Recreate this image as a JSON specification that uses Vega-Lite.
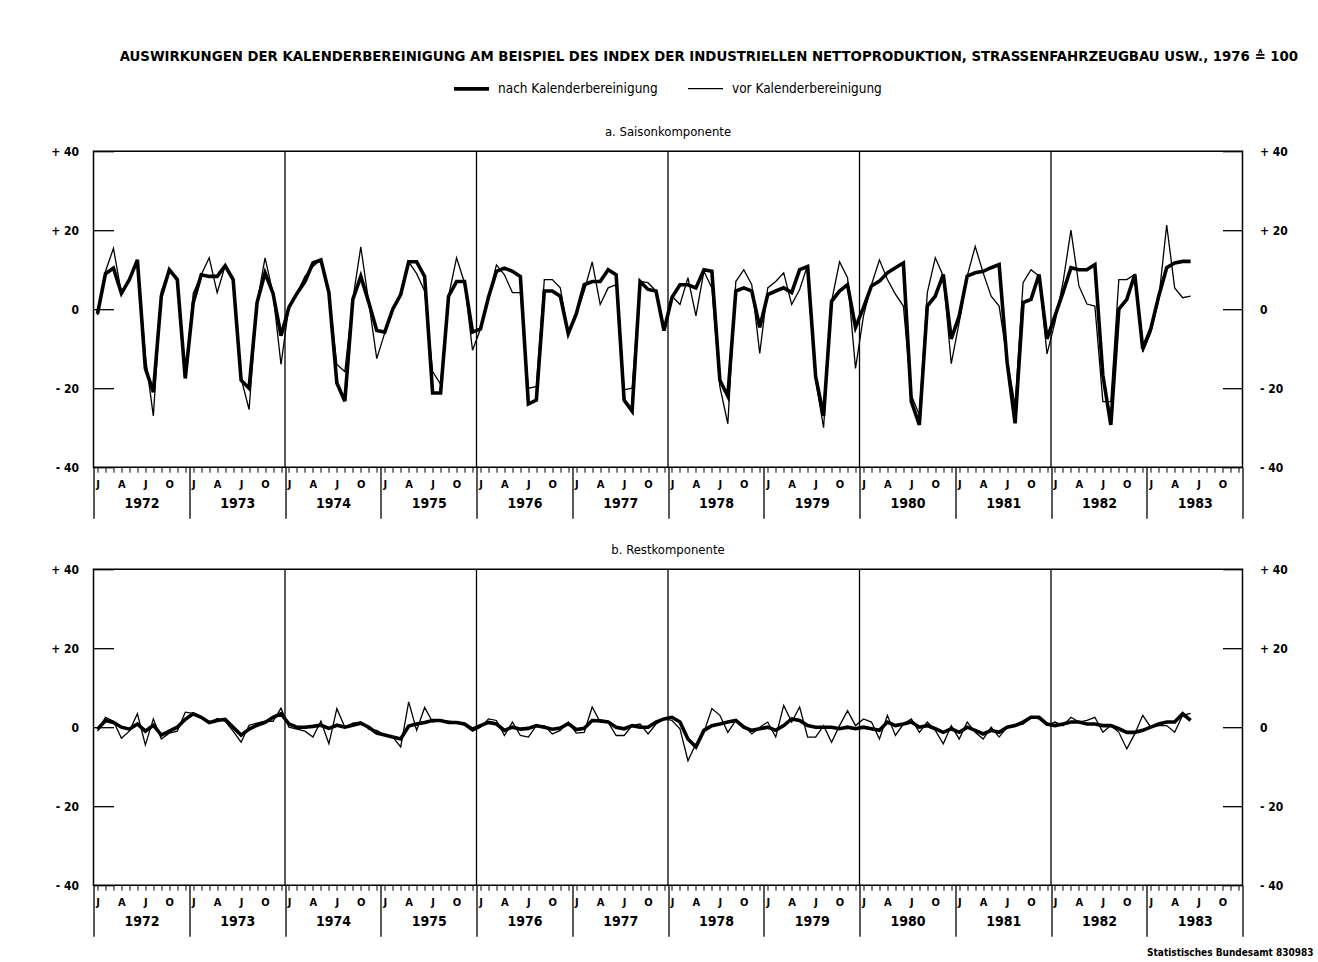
{
  "$schema": "https://vega.github.io/schema/vega-lite/v6.json",
  "background": "white",
  "padding": {"left": 49.5, "top": 49.2, "right": 5, "bottom": 0},
  "title": {
    "text": "AUSWIRKUNGEN DER KALENDERBEREINIGUNG AM BEISPIEL DES INDEX DER INDUSTRIELLEN NETTOPRODUKTION, STRASSENFAHRZEUGBAU USW., 1976 ≙ 100",
    "fontSize": 14.8, "fontWeight": "bold", "anchor": "middle", "dx": 27, "offset": 5, "color": "black"
  },
  "config": {
    "font": "Liberation Sans Narrow, DejaVu Sans Condensed, Arial Narrow, sans-serif",
    "view": {"stroke": "black", "strokeWidth": 1.5},
    "axis": {"labelColor": "black", "tickColor": "black", "domain": false, "grid": false, "title": null},
    "legend": {"labelColor": "black"}
  },
  "resolve": {"scale": {"strokeWidth": "shared"}, "legend": {"strokeWidth": "shared"}},
  "spacing": 23,
  "datasets": {
    "breaks": [{"b": 23.5}, {"b": 47.5}, {"b": 71.5}, {"b": 95.5}, {"b": 119.5}],
    "an": [{"m":0,"v":-1.2},{"m":1,"v":9},{"m":2,"v":10.4},{"m":3,"v":4},{"m":4,"v":7.5},{"m":5,"v":12.5},{"m":6,"v":-15},{"m":7,"v":-21},{"m":8,"v":3.3},{"m":9,"v":10},{"m":10,"v":7.5},{"m":11,"v":-17.5},
      {"m":12,"v":1.7},{"m":13,"v":8.7},{"m":14,"v":8.3},{"m":15,"v":8.3},{"m":16,"v":11},{"m":17,"v":7.5},{"m":18,"v":-18},{"m":19,"v":-20},{"m":20,"v":1.7},{"m":21,"v":9.2},{"m":22,"v":4},{"m":23,"v":-6.7},
      {"m":24,"v":0.5},{"m":25,"v":4},{"m":26,"v":7},{"m":27,"v":11.7},{"m":28,"v":12.5},{"m":29,"v":4.2},{"m":30,"v":-18.7},{"m":31,"v":-23.3},{"m":32,"v":2.5},{"m":33,"v":8.3},{"m":34,"v":1.7},{"m":35,"v":-5.4},
      {"m":36,"v":-5.8},{"m":37,"v":0},{"m":38,"v":3.7},{"m":39,"v":12},{"m":40,"v":12},{"m":41,"v":8.3},{"m":42,"v":-21.2},{"m":43,"v":-21.2},{"m":44,"v":3.3},{"m":45,"v":7},{"m":46,"v":7},{"m":47,"v":-5.8},
      {"m":48,"v":-5},{"m":49,"v":3},{"m":50,"v":9.6},{"m":51,"v":10.4},{"m":52,"v":9.6},{"m":53,"v":8.3},{"m":54,"v":-24},{"m":55,"v":-23},{"m":56,"v":4.6},{"m":57,"v":4.6},{"m":58,"v":3.3},{"m":59,"v":-6.2},
      {"m":60,"v":-1.2},{"m":61,"v":6.2},{"m":62,"v":7},{"m":63,"v":7},{"m":64,"v":10},{"m":65,"v":8.7},{"m":66,"v":-23},{"m":67,"v":-25.8},{"m":68,"v":7},{"m":69,"v":5},{"m":70,"v":4.6},{"m":71,"v":-5.4},
      {"m":72,"v":3},{"m":73,"v":6.2},{"m":74,"v":6.2},{"m":75,"v":5.4},{"m":76,"v":10},{"m":77,"v":9.6},{"m":78,"v":-18},{"m":79,"v":-22},{"m":80,"v":4.6},{"m":81,"v":5.4},{"m":82,"v":4.6},{"m":83,"v":-4.6},
      {"m":84,"v":3.7},{"m":85,"v":4.6},{"m":86,"v":5.4},{"m":87,"v":4.2},{"m":88,"v":10},{"m":89,"v":10.8},{"m":90,"v":-17},{"m":91,"v":-27},{"m":92,"v":2},{"m":93,"v":4.6},{"m":94,"v":6.2},{"m":95,"v":-4.6},
      {"m":96,"v":0.4},{"m":97,"v":5.9},{"m":98,"v":7.1},{"m":99,"v":9.2},{"m":100,"v":10.5},{"m":101,"v":11.7},{"m":102,"v":-23.4},{"m":103,"v":-29.3},{"m":104,"v":0.8},{"m":105,"v":3.3},{"m":106,"v":8.8},{"m":107,"v":-7.5},
      {"m":108,"v":-1.7},{"m":109,"v":8.4},{"m":110,"v":9.2},{"m":111,"v":9.6},{"m":112,"v":10.5},{"m":113,"v":11.3},{"m":114,"v":-13.4},{"m":115,"v":-28.9},{"m":116,"v":1.7},{"m":117,"v":2.5},{"m":118,"v":8.8},{"m":119,"v":-7.5},
      {"m":120,"v":-1.7},{"m":121,"v":4.2},{"m":122,"v":10.5},{"m":123,"v":10},{"m":124,"v":10},{"m":125,"v":11.3},{"m":126,"v":-16.7},{"m":127,"v":-29.3},{"m":128,"v":0},{"m":129,"v":2.5},{"m":130,"v":8.8},{"m":131,"v":-10},
      {"m":132,"v":-5},{"m":133,"v":3.3},{"m":134,"v":10.5},{"m":135,"v":11.7},{"m":136,"v":12.1},{"m":137,"v":12.1}],
    "av": [{"m":0,"v":-1.5},{"m":1,"v":9.6},{"m":2,"v":15.4},{"m":3,"v":4},{"m":4,"v":7.5},{"m":5,"v":12.5},{"m":6,"v":-12},{"m":7,"v":-27},{"m":8,"v":4.6},{"m":9,"v":10},{"m":10,"v":7.5},{"m":11,"v":-17.5},
      {"m":12,"v":4},{"m":13,"v":8.7},{"m":14,"v":13},{"m":15,"v":4.2},{"m":16,"v":11},{"m":17,"v":7.5},{"m":18,"v":-17.5},{"m":19,"v":-25.4},{"m":20,"v":1.7},{"m":21,"v":13},{"m":22,"v":4},{"m":23,"v":-14},
      {"m":24,"v":0.8},{"m":25,"v":4},{"m":26,"v":8.3},{"m":27,"v":10.8},{"m":28,"v":12.5},{"m":29,"v":4.2},{"m":30,"v":-14},{"m":31,"v":-15.8},{"m":32,"v":2.5},{"m":33,"v":15.8},{"m":34,"v":1.7},{"m":35,"v":-12.5},
      {"m":36,"v":-6},{"m":37,"v":0},{"m":38,"v":3.7},{"m":39,"v":12},{"m":40,"v":9},{"m":41,"v":4.6},{"m":42,"v":-15.8},{"m":43,"v":-19},{"m":44,"v":3.3},{"m":45,"v":13},{"m":46,"v":6.7},{"m":47,"v":-10.4},
      {"m":48,"v":-5},{"m":49,"v":3},{"m":50,"v":11.2},{"m":51,"v":8.7},{"m":52,"v":4.2},{"m":53,"v":4.2},{"m":54,"v":-20},{"m":55,"v":-19.6},{"m":56,"v":7.5},{"m":57,"v":7.5},{"m":58,"v":5.4},{"m":59,"v":-6.2},
      {"m":60,"v":-1.2},{"m":61,"v":4.6},{"m":62,"v":12},{"m":63,"v":1.2},{"m":64,"v":5.4},{"m":65,"v":6.2},{"m":66,"v":-20.4},{"m":67,"v":-20},{"m":68,"v":7},{"m":69,"v":6.7},{"m":70,"v":4.6},{"m":71,"v":-4.6},
      {"m":72,"v":3.3},{"m":73,"v":1.2},{"m":74,"v":8},{"m":75,"v":-1.7},{"m":76,"v":9.6},{"m":77,"v":5.4},{"m":78,"v":-19.6},{"m":79,"v":-29},{"m":80,"v":7},{"m":81,"v":10},{"m":82,"v":6.2},{"m":83,"v":-11.2},
      {"m":84,"v":5.4},{"m":85,"v":7},{"m":86,"v":9.2},{"m":87,"v":1.2},{"m":88,"v":5},{"m":89,"v":11.2},{"m":90,"v":-18},{"m":91,"v":-30},{"m":92,"v":2},{"m":93,"v":12},{"m":94,"v":8},{"m":95,"v":-15},
      {"m":96,"v":-1.7},{"m":97,"v":6.2},{"m":98,"v":12.5},{"m":99,"v":7.5},{"m":100,"v":3.8},{"m":101,"v":0.8},{"m":102,"v":-21.8},{"m":103,"v":-26.8},{"m":104,"v":4.2},{"m":105,"v":13},{"m":106,"v":8.4},{"m":107,"v":-13.8},
      {"m":108,"v":-3.3},{"m":109,"v":8.4},{"m":110,"v":15.9},{"m":111,"v":9.2},{"m":112,"v":3.3},{"m":113,"v":0.8},{"m":114,"v":-12.6},{"m":115,"v":-24.3},{"m":116,"v":6.7},{"m":117,"v":10},{"m":118,"v":8.4},{"m":119,"v":-11.3},
      {"m":120,"v":-3.3},{"m":121,"v":6.7},{"m":122,"v":20},{"m":123,"v":5.9},{"m":124,"v":1.3},{"m":125,"v":0.8},{"m":126,"v":-23.4},{"m":127,"v":-23.4},{"m":128,"v":7.5},{"m":129,"v":7.5},{"m":130,"v":8.8},{"m":131,"v":-10.9},
      {"m":132,"v":-5.9},{"m":133,"v":2.5},{"m":134,"v":21.3},{"m":135,"v":5.4},{"m":136,"v":2.9},{"m":137,"v":3.3}],
    "bn": [{"m":0,"v":-0.5},{"m":1,"v":1.7},{"m":2,"v":1.2},{"m":3,"v":0},{"m":4,"v":-0.5},{"m":5,"v":0.8},{"m":6,"v":-1},{"m":7,"v":0.5},{"m":8,"v":-2},{"m":9,"v":-1},{"m":10,"v":0},{"m":11,"v":2},
      {"m":12,"v":3.4},{"m":13,"v":2.5},{"m":14,"v":1.2},{"m":15,"v":1.7},{"m":16,"v":2},{"m":17,"v":0},{"m":18,"v":-2},{"m":19,"v":-0.5},{"m":20,"v":0.5},{"m":21,"v":1.2},{"m":22,"v":2.5},{"m":23,"v":3.4},
      {"m":24,"v":0.8},{"m":25,"v":0},{"m":26,"v":0},{"m":27,"v":0.2},{"m":28,"v":0.5},{"m":29,"v":-0.3},{"m":30,"v":0.5},{"m":31,"v":0},{"m":32,"v":0.5},{"m":33,"v":1},{"m":34,"v":0},{"m":35,"v":-1.5},
      {"m":36,"v":-2},{"m":37,"v":-2.5},{"m":38,"v":-3},{"m":39,"v":0.3},{"m":40,"v":0.8},{"m":41,"v":1.2},{"m":42,"v":1.7},{"m":43,"v":1.7},{"m":44,"v":1.2},{"m":45,"v":1.2},{"m":46,"v":0.8},{"m":47,"v":-0.5},
      {"m":48,"v":0.4},{"m":49,"v":1.2},{"m":50,"v":0.8},{"m":51,"v":-0.8},{"m":52,"v":0},{"m":53,"v":-0.5},{"m":54,"v":-0.3},{"m":55,"v":0.4},{"m":56,"v":0},{"m":57,"v":-0.5},{"m":58,"v":-0.2},{"m":59,"v":0.9},
      {"m":60,"v":-0.6},{"m":61,"v":-0.3},{"m":62,"v":1.7},{"m":63,"v":1.6},{"m":64,"v":1.3},{"m":65,"v":0},{"m":66,"v":-0.4},{"m":67,"v":0.4},{"m":68,"v":0},{"m":69,"v":0},{"m":70,"v":1.3},{"m":71,"v":2.1},
      {"m":72,"v":2.5},{"m":73,"v":1.3},{"m":74,"v":-3},{"m":75,"v":-5},{"m":76,"v":-0.8},{"m":77,"v":0.4},{"m":78,"v":0.8},{"m":79,"v":1.3},{"m":80,"v":1.7},{"m":81,"v":0},{"m":82,"v":-0.8},{"m":83,"v":-0.4},
      {"m":84,"v":0},{"m":85,"v":-0.8},{"m":86,"v":0.4},{"m":87,"v":2.1},{"m":88,"v":1.7},{"m":89,"v":0.4},{"m":90,"v":0},{"m":91,"v":0},{"m":92,"v":0},{"m":93,"v":-0.4},{"m":94,"v":0},{"m":95,"v":-0.4},
      {"m":96,"v":0},{"m":97,"v":-0.4},{"m":98,"v":-0.8},{"m":99,"v":1.3},{"m":100,"v":0.4},{"m":101,"v":0.8},{"m":102,"v":1.3},{"m":103,"v":0},{"m":104,"v":0.4},{"m":105,"v":-0.4},{"m":106,"v":-1.3},{"m":107,"v":-0.4},
      {"m":108,"v":-1.3},{"m":109,"v":0},{"m":110,"v":-0.8},{"m":111,"v":-1.7},{"m":112,"v":-0.8},{"m":113,"v":-1.3},{"m":114,"v":0},{"m":115,"v":0.4},{"m":116,"v":1.3},{"m":117,"v":2.5},{"m":118,"v":2.5},{"m":119,"v":0.8},
      {"m":120,"v":0.4},{"m":121,"v":0.8},{"m":122,"v":1.3},{"m":123,"v":1.3},{"m":124,"v":0.8},{"m":125,"v":0.8},{"m":126,"v":0.4},{"m":127,"v":0.4},{"m":128,"v":-0.4},{"m":129,"v":-1.3},{"m":130,"v":-1.3},{"m":131,"v":-0.8},
      {"m":132,"v":0},{"m":133,"v":0.8},{"m":134,"v":1.3},{"m":135,"v":1.3},{"m":136,"v":3.4},{"m":137,"v":1.7}],
    "bv": [{"m":0,"v":-1},{"m":1,"v":2.5},{"m":2,"v":1.5},{"m":3,"v":-2.8},{"m":4,"v":-1},{"m":5,"v":3.4},{"m":6,"v":-4.5},{"m":7,"v":2.1},{"m":8,"v":-3},{"m":9,"v":-1.5},{"m":10,"v":-1},{"m":11,"v":3.8},
      {"m":12,"v":3.5},{"m":13,"v":2.5},{"m":14,"v":1},{"m":15,"v":2.2},{"m":16,"v":1.5},{"m":17,"v":-1},{"m":18,"v":-3.8},{"m":19,"v":0.5},{"m":20,"v":1},{"m":21,"v":1.5},{"m":22,"v":1.5},{"m":23,"v":4.8},
      {"m":24,"v":0},{"m":25,"v":-0.5},{"m":26,"v":-1},{"m":27,"v":-2.5},{"m":28,"v":1.5},{"m":29,"v":-4.2},{"m":30,"v":4.7},{"m":31,"v":0},{"m":32,"v":1},{"m":33,"v":1.3},{"m":34,"v":-0.5},{"m":35,"v":-0.8},
      {"m":36,"v":-2},{"m":37,"v":-2.5},{"m":38,"v":-5},{"m":39,"v":6.4},{"m":40,"v":-0.8},{"m":41,"v":5},{"m":42,"v":1.3},{"m":43,"v":1.7},{"m":44,"v":1.5},{"m":45,"v":1.3},{"m":46,"v":0.5},{"m":47,"v":-1},
      {"m":48,"v":0},{"m":49,"v":2.1},{"m":50,"v":1.7},{"m":51,"v":-2.1},{"m":52,"v":1.3},{"m":53,"v":-2.1},{"m":54,"v":-2.5},{"m":55,"v":0.4},{"m":56,"v":0.4},{"m":57,"v":-1.7},{"m":58,"v":-0.8},{"m":59,"v":1.3},
      {"m":60,"v":-1.5},{"m":61,"v":-1.3},{"m":62,"v":5.1},{"m":63,"v":1.3},{"m":64,"v":1.3},{"m":65,"v":-2.1},{"m":66,"v":-2.1},{"m":67,"v":0.4},{"m":68,"v":0.8},{"m":69,"v":-1.7},{"m":70,"v":0.8},{"m":71,"v":2.1},
      {"m":72,"v":1.7},{"m":73,"v":-0.4},{"m":74,"v":-8.5},{"m":75,"v":-4.2},{"m":76,"v":-1.3},{"m":77,"v":4.7},{"m":78,"v":3},{"m":79,"v":-1.3},{"m":80,"v":1.7},{"m":81,"v":0.4},{"m":82,"v":-1.7},{"m":83,"v":0},
      {"m":84,"v":1.3},{"m":85,"v":-2.5},{"m":86,"v":5.5},{"m":87,"v":1.3},{"m":88,"v":5.1},{"m":89,"v":-2.5},{"m":90,"v":-2.5},{"m":91,"v":0.4},{"m":92,"v":-3.8},{"m":93,"v":0.4},{"m":94,"v":4.2},{"m":95,"v":0.4},
      {"m":96,"v":2.1},{"m":97,"v":1.3},{"m":98,"v":-3},{"m":99,"v":3},{"m":100,"v":-2.1},{"m":101,"v":0.8},{"m":102,"v":2.1},{"m":103,"v":-1.3},{"m":104,"v":1.3},{"m":105,"v":-0.8},{"m":106,"v":-4.2},{"m":107,"v":0.4},
      {"m":108,"v":-3},{"m":109,"v":1.3},{"m":110,"v":-1.3},{"m":111,"v":-3},{"m":112,"v":0},{"m":113,"v":-2.5},{"m":114,"v":0},{"m":115,"v":0.4},{"m":116,"v":0.8},{"m":117,"v":2.5},{"m":118,"v":2.1},{"m":119,"v":0.4},
      {"m":120,"v":1.3},{"m":121,"v":0.4},{"m":122,"v":2.5},{"m":123,"v":1.3},{"m":124,"v":1.7},{"m":125,"v":2.5},{"m":126,"v":-1.3},{"m":127,"v":0.4},{"m":128,"v":-1.3},{"m":129,"v":-5.5},{"m":130,"v":-1.7},{"m":131,"v":3},
      {"m":132,"v":0},{"m":133,"v":0.4},{"m":134,"v":0.4},{"m":135,"v":-1.3},{"m":136,"v":3},{"m":137,"v":3.5}]
  },
  "vconcat": [
    {
      "width": 1149, "height": 316,
      "title": {"text": "a. Saisonkomponente", "fontSize": 13, "fontWeight": "normal", "offset": 6, "color": "black", "anchor": "middle"},
      "resolve": {"axis": {"x": "independent", "y": "independent"}},
      "layer": [
        {"data": {"name": "breaks"}, "mark": {"type": "rule", "color": "black", "strokeWidth": 1.3},
         "encoding": {"x": {"field": "b", "type": "quantitative", "scale": {"domain": [-0.5, 143.5], "nice": false, "zero": false},
           "axis": {"orient": "bottom", "values": [-0.5, 11.5, 23.5, 35.5, 47.5, 59.5, 71.5, 83.5, 95.5, 107.5, 119.5, 131.5, 143.5],
             "tickSize": 51, "tickWidth": 1.3, "labelExpr": "datum.value < 140 ? '' + (1972 + round((datum.value + 0.5) / 12)) : ''",
             "labelOffset": 47.9, "labelPadding": -15, "labelBaseline": "middle", "labelFontSize": 14, "labelFontWeight": "bold",
             "labelFlush": false, "labelOverlap": false, "labelBound": false, "title": null}}}},
        {"mark": {"type": "rule", "color": "black", "strokeWidth": 1.5},
         "encoding": {"y": {"datum": 0, "type": "quantitative", "scale": {"domain": [-40, 40], "nice": false},
           "axis": {"orient": "right", "values": [-40, -20, 0, 20, 40], "tickSize": -20, "tickWidth": 1.3, "labelPadding": 37,
             "labelExpr": "datum.value > 0 ? '+ ' + datum.value : (datum.value < 0 ? '- ' + (-datum.value) : '0')",
             "labelFontSize": 12, "labelFontWeight": "bold", "labelFlush": false, "title": null}}}},
        {"data": {"name": "av"}, "mark": {"type": "line", "color": "black"},
         "encoding": {
           "x": {"field": "m", "type": "quantitative", "scale": {"domain": [-0.5, 143.5], "nice": false, "zero": false},
             "axis": {"orient": "bottom", "values": [0,1,2,3,4,5,6,7,8,9,10,11,12,13,14,15,16,17,18,19,20,21,22,23,24,25,26,27,28,29,30,31,32,33,34,35,36,37,38,39,40,41,42,43,44,45,46,47,48,49,50,51,52,53,54,55,56,57,58,59,60,61,62,63,64,65,66,67,68,69,70,71,72,73,74,75,76,77,78,79,80,81,82,83,84,85,86,87,88,89,90,91,92,93,94,95,96,97,98,99,100,101,102,103,104,105,106,107,108,109,110,111,112,113,114,115,116,117,118,119,120,121,122,123,124,125,126,127,128,129,130,131,132,133,134,135,136,137,138,139,140,141,142,143],
               "tickSize": 5, "tickWidth": 1, "labelPadding": 6,
               "labelExpr": "datum.value % 12 == 0 ? 'J' : (datum.value % 12 == 3 ? 'A' : (datum.value % 12 == 6 ? 'J' : (datum.value % 12 == 9 ? 'O' : '')))",
               "labelFontSize": 11, "labelFontWeight": "bold", "labelFlush": false, "labelOverlap": false, "labelBound": false, "title": null}},
           "y": {"field": "v", "type": "quantitative", "scale": {"domain": [-40, 40], "nice": false},
             "axis": {"orient": "left", "values": [-40, -20, 0, 20, 40], "tickSize": -20, "tickWidth": 1.3, "labelPadding": 35,
               "labelExpr": "datum.value > 0 ? '+ ' + datum.value : (datum.value < 0 ? '- ' + (-datum.value) : '0')",
               "labelFontSize": 12, "labelFontWeight": "bold", "labelFlush": false, "title": null}},
           "strokeWidth": {"datum": "vor Kalenderbereinigung", "type": "nominal",
             "scale": {"domain": ["nach Kalenderbereinigung", "vor Kalenderbereinigung"], "range": [3.6, 1.3]},
             "legend": {"orient": "none", "legendX": 358.5, "legendY": -82, "direction": "horizontal", "columns": 2, "symbolType": "stroke", "symbolSize": 1225, "symbolStrokeColor": "black", "labelFontSize": 13.5, "labelOffset": 7, "columnPadding": 27, "title": null}}
         }},
        {"data": {"name": "an"}, "mark": {"type": "line", "color": "black"},
         "encoding": {
           "x": {"field": "m", "type": "quantitative", "axis": null},
           "y": {"field": "v", "type": "quantitative", "axis": null},
           "strokeWidth": {"datum": "nach Kalenderbereinigung", "type": "nominal",
             "legend": {"orient": "none", "legendX": 358.5, "legendY": -82, "direction": "horizontal", "columns": 2, "symbolType": "stroke", "symbolSize": 1225, "symbolStrokeColor": "black", "labelFontSize": 13.5, "labelOffset": 7, "columnPadding": 27, "title": null}}
         }}
      ]
    },
    {
      "width": 1149, "height": 316,
      "title": {"text": "b. Restkomponente", "fontSize": 13, "fontWeight": "normal", "offset": 6, "color": "black", "anchor": "middle"},
      "resolve": {"axis": {"x": "independent", "y": "independent"}},
      "layer": [
        {"data": {"name": "breaks"}, "mark": {"type": "rule", "color": "black", "strokeWidth": 1.3},
         "encoding": {"x": {"field": "b", "type": "quantitative", "scale": {"domain": [-0.5, 143.5], "nice": false, "zero": false},
           "axis": {"orient": "bottom", "values": [-0.5, 11.5, 23.5, 35.5, 47.5, 59.5, 71.5, 83.5, 95.5, 107.5, 119.5, 131.5, 143.5],
             "tickSize": 51, "tickWidth": 1.3, "labelExpr": "datum.value < 140 ? '' + (1972 + round((datum.value + 0.5) / 12)) : ''",
             "labelOffset": 47.9, "labelPadding": -15, "labelBaseline": "middle", "labelFontSize": 14, "labelFontWeight": "bold",
             "labelFlush": false, "labelOverlap": false, "labelBound": false,
             "title": "Statistisches Bundesamt 830983", "titleAnchor": "end", "titleAlign": "right", "titleX": 1219.5, "titleY": 62, "titleFontSize": 10, "titleFontWeight": "bold", "titleColor": "black"}}}},
        {"mark": {"type": "rule", "color": "black", "strokeWidth": 1.5},
         "encoding": {"y": {"datum": 0, "type": "quantitative", "scale": {"domain": [-40, 40], "nice": false},
           "axis": {"orient": "right", "values": [-40, -20, 0, 20, 40], "tickSize": -20, "tickWidth": 1.3, "labelPadding": 37,
             "labelExpr": "datum.value > 0 ? '+ ' + datum.value : (datum.value < 0 ? '- ' + (-datum.value) : '0')",
             "labelFontSize": 12, "labelFontWeight": "bold", "labelFlush": false, "title": null}}}},
        {"data": {"name": "bv"}, "mark": {"type": "line", "color": "black"},
         "encoding": {
           "x": {"field": "m", "type": "quantitative", "scale": {"domain": [-0.5, 143.5], "nice": false, "zero": false},
             "axis": {"orient": "bottom", "values": [0,1,2,3,4,5,6,7,8,9,10,11,12,13,14,15,16,17,18,19,20,21,22,23,24,25,26,27,28,29,30,31,32,33,34,35,36,37,38,39,40,41,42,43,44,45,46,47,48,49,50,51,52,53,54,55,56,57,58,59,60,61,62,63,64,65,66,67,68,69,70,71,72,73,74,75,76,77,78,79,80,81,82,83,84,85,86,87,88,89,90,91,92,93,94,95,96,97,98,99,100,101,102,103,104,105,106,107,108,109,110,111,112,113,114,115,116,117,118,119,120,121,122,123,124,125,126,127,128,129,130,131,132,133,134,135,136,137,138,139,140,141,142,143],
               "tickSize": 5, "tickWidth": 1, "labelPadding": 6,
               "labelExpr": "datum.value % 12 == 0 ? 'J' : (datum.value % 12 == 3 ? 'A' : (datum.value % 12 == 6 ? 'J' : (datum.value % 12 == 9 ? 'O' : '')))",
               "labelFontSize": 11, "labelFontWeight": "bold", "labelFlush": false, "labelOverlap": false, "labelBound": false, "title": null}},
           "y": {"field": "v", "type": "quantitative", "scale": {"domain": [-40, 40], "nice": false},
             "axis": {"orient": "left", "values": [-40, -20, 0, 20, 40], "tickSize": -20, "tickWidth": 1.3, "labelPadding": 35,
               "labelExpr": "datum.value > 0 ? '+ ' + datum.value : (datum.value < 0 ? '- ' + (-datum.value) : '0')",
               "labelFontSize": 12, "labelFontWeight": "bold", "labelFlush": false, "title": null}},
           "strokeWidth": {"datum": "vor Kalenderbereinigung", "type": "nominal",
             "legend": {"orient": "none", "legendX": 358.5, "legendY": -82, "direction": "horizontal", "columns": 2, "symbolType": "stroke", "symbolSize": 1225, "symbolStrokeColor": "black", "labelFontSize": 13.5, "labelOffset": 7, "columnPadding": 27, "title": null}}
         }},
        {"data": {"name": "bn"}, "mark": {"type": "line", "color": "black"},
         "encoding": {
           "x": {"field": "m", "type": "quantitative", "axis": null},
           "y": {"field": "v", "type": "quantitative", "axis": null},
           "strokeWidth": {"datum": "nach Kalenderbereinigung", "type": "nominal",
             "legend": {"orient": "none", "legendX": 358.5, "legendY": -82, "direction": "horizontal", "columns": 2, "symbolType": "stroke", "symbolSize": 1225, "symbolStrokeColor": "black", "labelFontSize": 13.5, "labelOffset": 7, "columnPadding": 27, "title": null}}
         }}
      ]
    }
  ]
}
